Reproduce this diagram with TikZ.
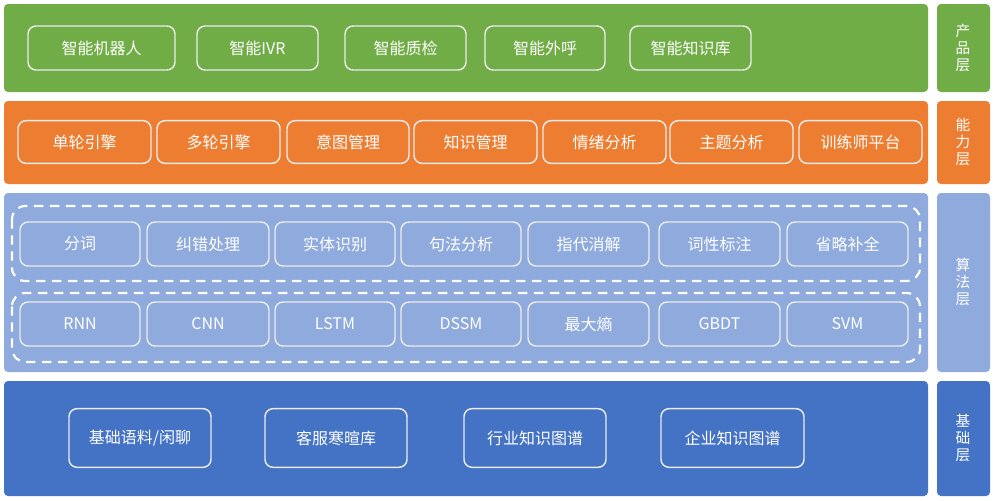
\documentclass[tikz,border=0pt]{standalone}
\usepackage{fontspec}
\setmainfont{Noto Sans CJK SC}
\begin{document}
\begin{tikzpicture}[x=0.75pt,y=-0.75pt,
  band/.style={rounded corners=3pt,draw=none},
  box/.style={draw=white!92!black,line width=1.1pt,rounded corners=6pt,text=white,font=\fontsize{12}{14}\selectfont,inner sep=0pt},
  side/.style={text=white,font=\fontsize{11}{13}\selectfont,align=center},
  dashbox/.style={draw=white,line width=1.6pt,dash pattern=on 7pt off 5pt,rounded corners=10pt}]
\definecolor{cg}{HTML}{70AD47}\definecolor{co}{HTML}{ED7D31}
\definecolor{cl}{HTML}{8FAADC}\definecolor{cd}{HTML}{4472C4}
\useasboundingbox (0,0) rectangle (996,500);
\fill[white] (0,0) rectangle (996,500);
% bands
\fill[band,cg] (4,4) rectangle (928,92);  \fill[band,cg] (937,4) rectangle (990,92);
\fill[band,co] (4,101) rectangle (928,184); \fill[band,co] (937,101) rectangle (990,184);
\fill[band,cl] (4,193) rectangle (928,372); \fill[band,cl] (937,193) rectangle (990,372);
\fill[band,cd] (4,381) rectangle (928,496); \fill[band,cd] (937,381) rectangle (990,496);
\node[side] (s1) at (963,48) {产\\品\\层};
\node[side] (s2) at (963,142) {能\\力\\层};
\node[side] (s3) at (963,282) {算\\法\\层};
\node[side] (s4) at (963,438) {基\\础\\层};
% product
\foreach \n/\a/\b/\t in {p1/28/175/智能机器人,p2/197/318/智能IVR,p3/345/466/智能质检,p4/485/605/智能外呼,p5/630/751/智能知识库}
  \node[box,minimum width={(\b-\a)*0.75pt},minimum height=33pt] (\n) at ({(\a+\b)/2},48) {\t};
% ability
\foreach \n/\a/\b/\t in {a1/18/151/单轮引擎,a2/157/280/多轮引擎,a3/287/409/意图管理,a4/414/537/知识管理,a5/543/666/情绪分析,a6/670/793/主题分析,a7/799/922/训练师平台}
  \node[box,minimum width={(\b-\a)*0.75pt},minimum height=32pt] (\n) at ({(\a+\b)/2},142) {\t};
% algorithm
\draw[dashbox] (12,206) rectangle (920,281);
\draw[dashbox] (12,293) rectangle (920,362);
\foreach \n/\a/\b/\t in {g1/20/140/分词,g2/147/269/纠错处理,g3/275/395/实体识别,g4/401/521/句法分析,g5/528/649/指代消解,g6/659/780/词性标注,g7/787/908/省略补全}
  \node[box,minimum width={(\b-\a)*0.75pt},minimum height=33pt] (\n) at ({(\a+\b)/2},244) {\t};
\foreach \n/\a/\b/\t in {m1/20/140/RNN,m2/147/269/CNN,m3/275/395/LSTM,m4/401/521/DSSM,m5/528/649/最大熵,m6/659/780/GBDT,m7/787/908/SVM}
  \node[box,minimum width={(\b-\a)*0.75pt},minimum height=33pt] (\n) at ({(\a+\b)/2},324) {\t};
% base
\node[box,minimum width=106.5pt,minimum height=44pt] (b1) at (140,438) {基础语料/闲聊};
\foreach \n/\a/\b/\t in {b2/265/407/客服寒暄库,b3/464/606/行业知识图谱,b4/661/804/企业知识图谱}
  \node[box,minimum width={(\b-\a)*0.75pt},minimum height=44pt] (\n) at ({(\a+\b)/2},438) {\t};
\end{tikzpicture}
\end{document}
